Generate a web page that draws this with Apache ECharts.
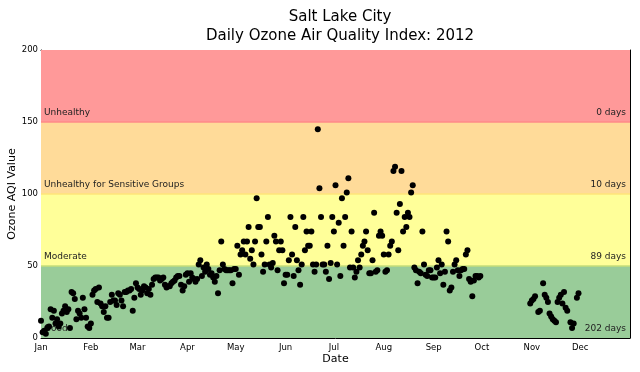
<!DOCTYPE html>
<html>
<head>
<meta charset="utf-8">
<script src="https://cdn.jsdelivr.net/npm/echarts@6/dist/echarts.min.js"></script>
<style>html,body{margin:0;padding:0;background:#fff}#c{width:640px;height:372px}</style>
</head>
<body>
<div id="c"></div>
<script>
// Day of year (0 = Jan 1, 2012) and daily ozone AQI values
const janFebDays = [0,1,2,3,4,5,6,7,8,9,10,11,12,13,14,15,16,17,18,19,20,21,22,23,24,25,26,27,28,29,30,31,32,33,34,35,36,37,38,39,40,41,42,43,44,45,46,47,48,49,50,51,52,53,54,55,56,57,58,59];
const janFebAqi  = [12,4,5,3,7,8,20,14,19,10,13,8,10,17,19,22,18,20,7,32,31,27,13,19,17,14,28,20,14,8,7,10,30,33,34,25,35,24,22,18,22,14,14,25,30,26,26,23,31,30,26,22,32,32,33,33,34,19,28,38];
const marAprDays = [60,61,62,63,64,65,66,67,68,69,70,71,72,73,74,75,76,77,78,79,80,81,82,83,84,85,86,87,88,89,90,91,92,93,94,95,96,97,98,99,100,101,102,103,104,105,106,107,108,109,110,111,112,113,114,115,116,117,118,119,120];
const marAprAqi  = [35,34,30,33,36,35,31,34,30,37,41,42,42,42,40,41,42,37,35,36,36,38,39,40,42,43,43,37,33,36,44,45,39,45,42,41,39,41,51,54,43,49,46,51,48,44,45,42,39,43,31,47,67,51,48,47,47,47,47,38,48];
const mayJunDays = [121,122,123,124,125,126,127,128,129,130,131,132,133,134,135,136,137,138,139,140,141,142,143,144,145,146,147,148,149,150,151,152,153,154,155,156,157,158,159,160,161,162,163,164,165,166,167,168,169,170,171,172,173,174,175,176,177,178,179,180,181];
const mayJunAqi  = [48,64,44,58,61,67,58,67,77,55,61,51,67,97,77,77,58,46,51,67,84,51,49,52,71,67,47,61,67,61,38,44,44,54,84,58,43,77,54,47,37,51,84,61,74,64,64,74,51,46,51,145,104,84,51,51,46,64,41,52,84];
const julAugDays = [182,183,184,185,186,187,188,189,190,191,192,193,194,195,196,197,198,199,200,201,202,203,204,205,206,207,208,209,210,211,212,213,214,215,216,217,218,219,220,221,222,223,224,225,226,227,228,229,230,231,232,233,234,235,236,237,238,239,240,241,242,243];
const julAugAqi  = [74,106,51,80,43,97,64,84,101,111,49,74,49,42,46,54,49,58,64,67,74,61,45,45,54,87,46,47,71,74,71,58,46,47,58,64,67,116,119,87,61,93,116,74,84,77,87,84,101,106,49,47,38,46,45,74,51,44,43,47,47,42];
const sepDays = [244,245,246,247,248,249,250,251,252,253,254,255,256,257,258,259,260,261,262,263,264,265,266,267,268,269,270,271,272,273];
const sepAqi  = [42,42,49,54,45,51,37,46,74,67,33,35,46,51,54,47,43,47,48,48,58,61,41,39,29,40,43,43,42,43];
const novDecDays = [304,305,306,307,309,310,312,313,314,315,316,317,318,319,320,321,322,323,324,325,326,327,329,330,331,333,334];
const novDecAqi  = [24,26,27,29,18,19,38,30,28,25,17,15,13,12,11,25,28,30,24,32,21,19,11,7,10,28,31];

const monthStarts = [0,31,60,91,121,152,182,213,244,274,305,335];
const monthNames  = ['Jan','Feb','Mar','Apr','May','Jun','Jul','Aug','Sep','Oct','Nov','Dec'];
const bandNames   = ['Good','Moderate','Unhealthy for Sensitive Groups','Unhealthy'];
const bandLow     = [0,50,100,150];
const bandHigh    = [50,100,150,200];
const bandCounts  = ['202 days','89 days','10 days','0 days'];
const bandColors  = ['#99CC99','#FFFF99','#FFDB99','#FF9999'];
const edgeColors  = ['#C6DE7A','#FFE57A','#FF8A8A'];

const days = [].concat(janFebDays, marAprDays, mayJunDays, julAugDays, sepDays, novDecDays);
const aqi  = [].concat(janFebAqi, marAprAqi, mayJunAqi, julAugAqi, sepAqi, novDecAqi);

const FONT = 'DejaVu Sans';
const chart = echarts.init(document.getElementById('c'), null, {renderer: 'canvas'});

const bandAreas = bandNames.map((n, i) => [
  {name: n, yAxis: bandLow[i], itemStyle: {color: bandColors[i]}},
  {yAxis: bandHigh[i]}
]);
const countAreas = bandCounts.map((n, i) => [
  {name: n, yAxis: bandLow[i], itemStyle: {color: 'rgba(0,0,0,0)'}},
  {yAxis: bandHigh[i]}
]);
const labelStyle = {fontFamily: FONT, fontSize: 9, color: '#222'};

const option = {
  animation: false,
  backgroundColor: '#fff',
  title: {
    text: 'Salt Lake City\nDaily Ozone Air Quality Index: 2012',
    left: 335, top: 3, textAlign: 'center',
    textStyle: {fontFamily: FONT, fontSize: 15, fontWeight: 'normal', color: '#000', lineHeight: 19}
  },
  grid: {left: 41, right: 10, top: 50, bottom: 34, containLabel: false, outerBoundsMode: 'none'},
  xAxis: [{
    type: 'value', min: 0, max: 366,
    name: 'Date', nameLocation: 'middle', nameGap: 16, nameMoveOverlap: false,
    nameTextStyle: {fontFamily: FONT, fontSize: 11, color: '#000'},
    axisLine: {show: true, onZero: false, lineStyle: {color: '#000', width: 1}},
    axisTick: {show: true, inside: true, length: 4, customValues: monthStarts, lineStyle: {color: '#000'}},
    axisLabel: {customValues: monthStarts, formatter: v => monthNames[monthStarts.indexOf(v)],
      fontFamily: FONT, fontSize: 8.5, color: '#000', margin: 5},
    splitLine: {show: false}
  }, {
    type: 'value', min: 0, max: 366, position: 'top',
    axisLine: {show: true, onZero: false, lineStyle: {color: '#000', width: 1}},
    axisTick: {show: true, inside: true, length: 4, customValues: monthStarts, lineStyle: {color: '#000'}},
    axisLabel: {show: false}, splitLine: {show: false}
  }],
  yAxis: [{
    type: 'value', min: 0, max: 200, interval: 50,
    name: 'Ozone AQI Value', nameLocation: 'middle', nameGap: 23, nameMoveOverlap: false,
    nameTextStyle: {fontFamily: FONT, fontSize: 11, color: '#000'},
    axisLine: {show: true, onZero: false, lineStyle: {color: '#000', width: 1}},
    axisTick: {show: true, inside: true, length: 4, lineStyle: {color: '#000'}},
    axisLabel: {fontFamily: FONT, fontSize: 8.5, color: '#000', margin: 3},
    splitLine: {show: false}
  }, {
    type: 'value', min: 0, max: 200, interval: 50, position: 'right',
    axisLine: {show: true, onZero: false, lineStyle: {color: '#000', width: 1}},
    axisTick: {show: true, inside: true, length: 4, lineStyle: {color: '#000'}},
    axisLabel: {show: false}, splitLine: {show: false}
  }],
  series: [{
    type: 'scatter', data: [], z: 1, silent: true,
    markArea: {silent: true, data: bandAreas,
      label: Object.assign({position: 'insideBottomLeft', distance: 4, offset: [-1, -1]}, labelStyle)},
    markLine: {silent: true, symbol: 'none', label: {show: false},
      data: [50,100,150].map((v, i) => ({yAxis: v, lineStyle: {color: edgeColors[i], width: 1.5, type: 'solid'}}))}
  }, {
    type: 'scatter', data: [], z: 2, silent: true,
    markArea: {silent: true, data: countAreas,
      label: Object.assign({position: 'insideBottomRight', distance: 4, offset: [0, -1]}, labelStyle)}
  }, {
    type: 'scatter', z: 5,
    data: days.map((d, i) => [d, aqi[i]]),
    symbol: 'circle', symbolSize: 6,
    itemStyle: {color: '#000', opacity: 1}
  }]
};
chart.setOption(option);
</script>
</body>
</html>
